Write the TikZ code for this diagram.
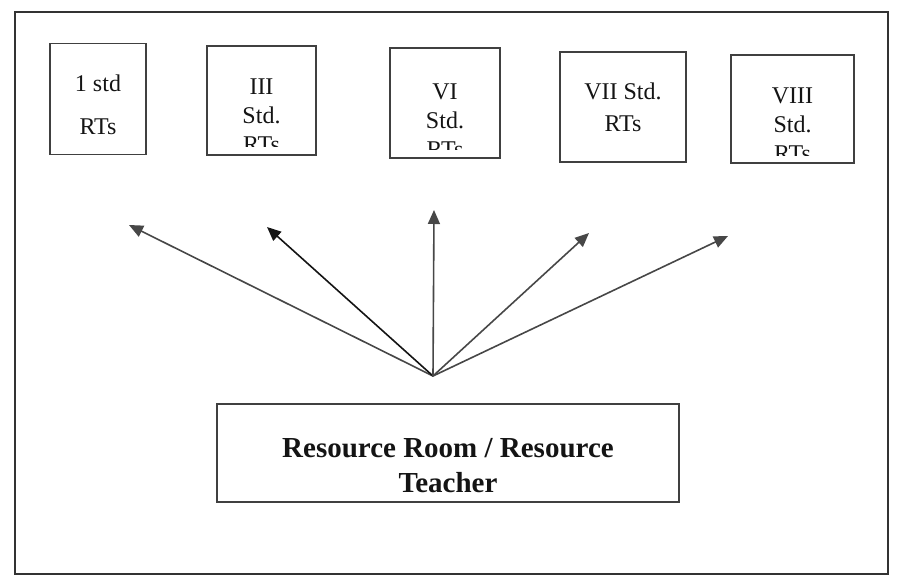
\documentclass[tikz,border=0pt]{standalone}
\usepackage{fontspec}
\setmainfont{Liberation Serif}
\usetikzlibrary{arrows.meta}
\begin{document}
\begin{tikzpicture}[x=1pt,y=-1pt,
  frame/.style={draw=black!80,line width=2pt},
  rtbox/.style={draw=black!75,line width=1.4pt,minimum width=#1,inner sep=0pt},
  lbl/.style={font=\fontsize{24}{29}\selectfont,align=center,inner sep=0pt,anchor=north,text=black!92},
  ray/.style={draw=black!72,line width=1.6pt,-{Triangle[length=14pt,width=12pt]}},
  mainbox/.style={draw=black!75,line width=1.4pt,minimum width=462pt,minimum height=98pt},
  bold/.style={font=\fontsize{29}{35}\selectfont\bfseries,align=center,text=black!92,inner sep=0pt}]
\useasboundingbox (0,0) rectangle (897,587);
\draw[frame] (15,12) rectangle (888,574);
% top boxes
\node[rtbox=96pt,minimum height=111pt] (b1) at (98,99) {};
\node[rtbox=109pt,minimum height=109pt] (b2) at (261.5,100.5) {};
\node[rtbox=110pt,minimum height=110pt] (b3) at (445,103) {};
\node[rtbox=126pt,minimum height=110pt] (b4) at (623,107) {};
\node[rtbox=123pt,minimum height=108pt] (b5) at (792.5,109) {};
\node[lbl,font=\fontsize{24}{43}\selectfont] (t1) at (98,75) {1 std\\RTs};
\begin{scope}
  \clip ([yshift=9pt]b2.south west) rectangle (b2.north east);
  \node[lbl] (t2) at (261.5,79) {III\\Std.\\RTs};
\end{scope}
\begin{scope}
  \clip ([yshift=9pt]b3.south west) rectangle (b3.north east);
  \node[lbl] (t3) at (445,84) {VI\\Std.\\RTs};
\end{scope}
\node[lbl,font=\fontsize{24}{32}\selectfont] (t4) at (623,83) {VII Std.\\RTs};
\begin{scope}
  \clip ([yshift=8pt]b5.south west) rectangle (b5.north east);
  \node[lbl] (t5) at (792.5,88) {VIII\\Std.\\RTs};
\end{scope}
% bottom box
\node[mainbox] (rr) at (448,453) {};
\node[bold] (rrt) at (448,466) {Resource Room / Resource\\Teacher};
% arrows
\coordinate (o) at (433,376);
\coordinate (a1) at (129,225);
\coordinate (a2) at (267,227);
\coordinate (a3) at (434,210);
\coordinate (a4) at (589,233);
\coordinate (a5) at (728,236);
\draw[ray] (o) -- (a1);
\draw[ray,draw=black!92] (o) -- (a2);
\draw[ray] (o) -- (a3);
\draw[ray] (o) -- (a4);
\draw[ray] (o) -- (a5);
\end{tikzpicture}
\end{document}
